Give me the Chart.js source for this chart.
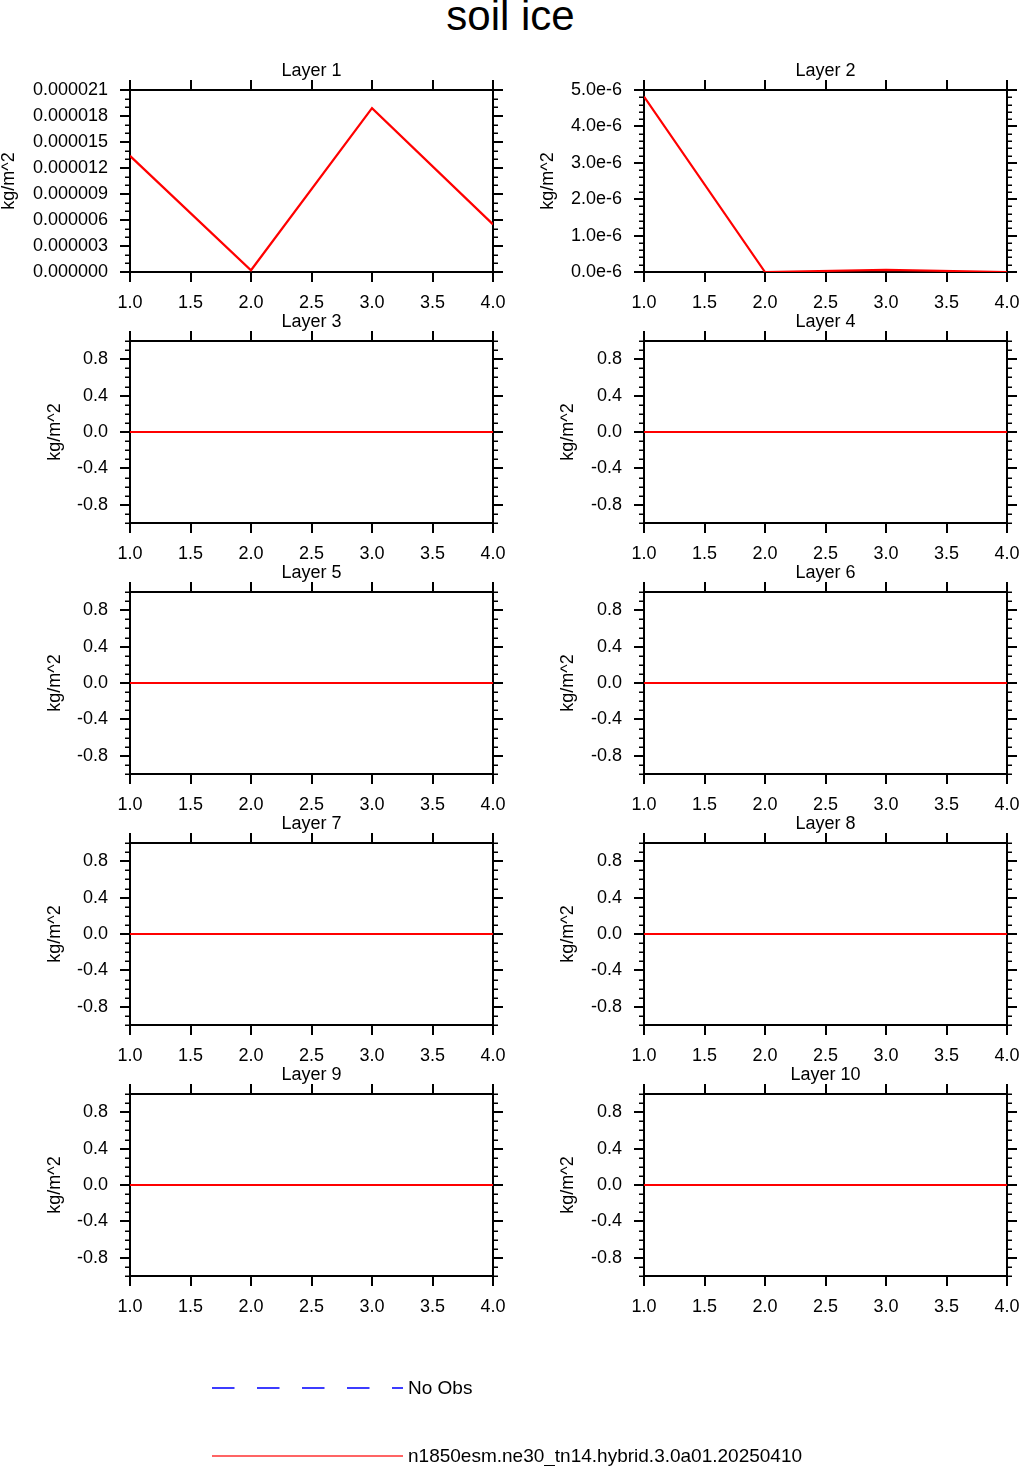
<!DOCTYPE html>
<html>
<head>
<meta charset="utf-8">
<script src="https://cdn.jsdelivr.net/npm/chart.js@4.4.1/dist/chart.umd.min.js"></script>
<style>
  body { margin: 0; background: #fff; width: 1021px; height: 1466px; overflow: hidden; position: relative;
         font-family: "Liberation Sans", Arial, Helvetica, sans-serif; }
  #title { position: absolute; left: 0; width: 1021px; top: -8px; text-align: center; font-size: 42px; color: #000; }
  .panel { position: absolute; }
  #legend { position: absolute; left: 0; top: 1360px; }
</style>
</head>
<body>
<div id="title">soil ice</div>
<div id="panels"></div>
<canvas id="legend" width="1021" height="106"></canvas>
<script>
// x positions of the samples
const years = [1, 2, 3, 4];
const xTicks = [1.0, 1.5, 2.0, 2.5, 3.0, 3.5, 4.0];

// series values, one per layer (kg/m^2)
const layer1 = [1.34e-5, 0.02e-5, 1.89e-5, 0.55e-5];
const layer2 = [4.82e-6, 0.0, 0.06e-6, 0.0];
const layer3 = [0, 0, 0, 0];
const layer4 = [0, 0, 0, 0];
const layer5 = [0, 0, 0, 0];
const layer6 = [0, 0, 0, 0];
const layer7 = [0, 0, 0, 0];
const layer8 = [0, 0, 0, 0];
const layer9 = [0, 0, 0, 0];
const layer10 = [0, 0, 0, 0];

// y tick labels
const yTicksL1 = [0, 3e-6, 6e-6, 9e-6, 12e-6, 15e-6, 18e-6, 21e-6];
const yTicksL2 = [0, 1e-6, 2e-6, 3e-6, 4e-6, 5e-6];
const yTicksFlat = [-0.8, -0.4, 0.0, 0.4, 0.8];

const legendLabels = ['No Obs', 'n1850esm.ne30_tn14.hybrid.3.0a01.20250410'];

const panels = [
  { name: 'Layer 1', data: layer1, min: 0, max: 21e-6, ticks: yTicksL1, minor: 1e-6, fmt: v => v.toFixed(6) },
  { name: 'Layer 2', data: layer2, min: 0, max: 5e-6, ticks: yTicksL2, minor: 0.2e-6, fmt: v => (v / 1e-6).toFixed(1) + 'e-6' },
  { name: 'Layer 3', data: layer3 },
  { name: 'Layer 4', data: layer4 },
  { name: 'Layer 5', data: layer5 },
  { name: 'Layer 6', data: layer6 },
  { name: 'Layer 7', data: layer7 },
  { name: 'Layer 8', data: layer8 },
  { name: 'Layer 9', data: layer9 },
  { name: 'Layer 10', data: layer10 }
];

// panel geometry
const L = 130, R = 32, T = 30, B = 42;
const plotW = 363, plotH = 182;
const colLeft = [130, 644];
const rowTop = 90, rowStep = 251;

const minorTicks = {
  id: 'minorTicks',
  afterDraw(chart, args, opts) {
    if (!opts.step) return;
    const y = chart.scales.y, a = chart.chartArea, ctx = chart.ctx;
    const n = Math.round((y.max - y.min) / opts.step);
    ctx.save();
    ctx.strokeStyle = '#000';
    ctx.lineWidth = 1.5;
    ctx.beginPath();
    for (let i = 0; i <= n; i++) {
      const py = Math.round(y.getPixelForValue(y.min + i * opts.step)) + 0.25;
      ctx.moveTo(a.left - 5, py); ctx.lineTo(a.left, py);
      ctx.moveTo(a.right, py); ctx.lineTo(a.right + 5, py);
    }
    ctx.stroke();
    ctx.restore();
  }
};

const font18 = { family: '"Liberation Sans", Arial, sans-serif', size: 18 };
const gridOpts = { drawOnChartArea: false, drawTicks: true, tickLength: 10, lineWidth: 2, color: '#000' };
const borderOpts = { display: true, width: 2, color: '#000' };

const holder = document.getElementById('panels');

panels.forEach((p, i) => {
  const col = i % 2, row = Math.floor(i / 2);
  const canvas = document.createElement('canvas');
  canvas.className = 'panel';
  canvas.width = L + plotW + R;
  canvas.height = T + plotH + B;
  canvas.style.left = (colLeft[col] - L) + 'px';
  canvas.style.top = (rowTop + row * rowStep - T) + 'px';
  holder.appendChild(canvas);

  const yMin = p.min !== undefined ? p.min : -1;
  const yMax = p.max !== undefined ? p.max : 1;
  const yTicks = p.ticks || yTicksFlat;
  const fmt = p.fmt || (v => v.toFixed(1));
  const titlePad = i === 0 ? -2 : (i === 1 ? 23 : (col === 0 ? 44 : 43));

  new Chart(canvas, {
    type: 'line',
    data: {
      datasets: [{
        data: years.map((x, k) => ({ x: x, y: p.data[k] })),
        borderColor: '#ff0000',
        borderWidth: 2.2,
        pointRadius: 0,
        tension: 0,
        fill: false
      }]
    },
    options: {
      responsive: false,
      animation: false,
      layout: { padding: 0 },
      plugins: {
        legend: { display: false },
        tooltip: { enabled: false },
        minorTicks: { step: p.minor || 0.1 }
      },
      scales: {
        x: {
          type: 'linear', position: 'bottom', min: 1, max: 4,
          afterBuildTicks: s => { s.ticks = xTicks.map(v => ({ value: v })); },
          afterFit: s => { s.height = B; },
          ticks: { callback: v => v.toFixed(1), font: font18, color: '#000', padding: 10, maxRotation: 0, autoSkip: false },
          grid: gridOpts, border: borderOpts
        },
        x2: {
          type: 'linear', position: 'top', min: 1, max: 4,
          afterBuildTicks: s => { s.ticks = xTicks.map(v => ({ value: v })); },
          afterFit: s => { s.height = T; },
          ticks: { display: false },
          grid: gridOpts, border: borderOpts,
          title: { display: true, text: p.name, font: font18, color: '#000', padding: { top: 0, bottom: 0 } }
        },
        y: {
          type: 'linear', position: 'left', min: yMin, max: yMax,
          afterBuildTicks: s => { s.ticks = yTicks.map(v => ({ value: v })); },
          afterFit: s => { s.width = L; },
          ticks: { callback: v => fmt(v), font: font18, color: '#000', padding: 12, autoSkip: false },
          grid: gridOpts, border: borderOpts,
          title: { display: true, text: 'kg/m^2', font: font18, color: '#000', padding: { top: titlePad, bottom: 0 } }
        },
        y2: {
          type: 'linear', position: 'right', min: yMin, max: yMax,
          afterBuildTicks: s => { s.ticks = yTicks.map(v => ({ value: v })); },
          afterFit: s => { s.width = R; },
          ticks: { display: false },
          grid: gridOpts, border: borderOpts
        }
      }
    },
    plugins: [minorTicks]
  });
});

// legend
const lg = document.getElementById('legend').getContext('2d');
lg.lineWidth = 2;
lg.strokeStyle = '#3c3cff';
lg.setLineDash([22.5, 22.5]);
lg.beginPath(); lg.moveTo(212, 28); lg.lineTo(403, 28); lg.stroke();
lg.setLineDash([]);
lg.strokeStyle = '#ff3030';
lg.lineWidth = 1.5;
lg.beginPath(); lg.moveTo(212, 96); lg.lineTo(403, 96); lg.stroke();
lg.fillStyle = '#000';
lg.font = '19px "Liberation Sans", Arial, sans-serif';
lg.textBaseline = 'middle';
lg.fillText(legendLabels[0], 408, 29);
lg.fillText(legendLabels[1], 408, 97);
</script>
</body>
</html>
